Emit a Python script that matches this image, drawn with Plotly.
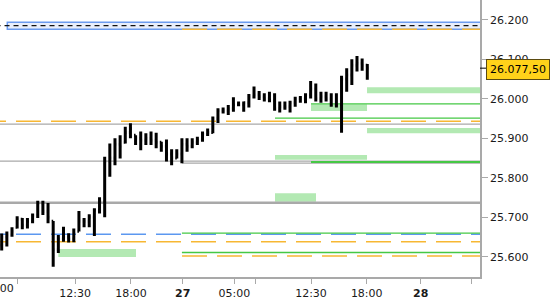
import plotly.graph_objects as go

# ---------------- data (30-min bars, slot index = bar number) ----------------
bar_open = [25630, 25650, 25655, 25675, 25695, 25680, 25690, 25705, 25735, 25715,
            25690, 25618, 25645, 25650, 25645, 25665, 25690, 25690, 25700, 25718,
            25740, 25841, 25850, 25885, 25890, 25915, 25908, 25900, 25895, 25900,
            25895, 25890, 25880, 25860, 25850, 25860, 25885, 25880, 25890, 25895,
            25910, 25915, 25950, 25970, 25970, 25975, 25985, 25985, 25990, 26005,
            26010, 26005, 26000, 25995, 25975, 25980, 25980, 25990, 26000, 26000,
            26010, 26025, 26000, 26005, 26000, 25985, 25985, 26050, 26060, 26085,
            26090, 26085]
bar_high = [25659, 25664, 25675, 25703, 25698, 25698, 25710, 25742, 25742, 25736,
            25691, 25655, 25676, 25660, 25672, 25716, 25698, 25708, 25723, 25751,
            25853, 25887, 25900, 25908, 25929, 25938, 25908, 25917, 25913, 25917,
            25914, 25891, 25897, 25872, 25872, 25900, 25900, 25900, 25904, 25917,
            25925, 25955, 25976, 25978, 25984, 26004, 25993, 25993, 26012, 26031,
            26020, 26014, 26018, 26014, 25993, 25993, 25995, 26005, 26007, 26014,
            26045, 26039, 26018, 26018, 26014, 26014, 26058, 26077, 26100, 26108,
            26102, 26088]
bar_low = [25616, 25626, 25651, 25672, 25670, 25672, 25685, 25698, 25706, 25685,
           25575, 25610, 25638, 25636, 25637, 25664, 25675, 25675, 25653, 25710,
           25700, 25803, 25832, 25849, 25887, 25900, 25883, 25870, 25883, 25883,
           25875, 25866, 25841, 25832, 25849, 25837, 25866, 25875, 25883, 25891,
           25906, 25913, 25939, 25963, 25959, 25967, 25982, 25967, 25978, 26001,
           25997, 25993, 25991, 25970, 25965, 25972, 25965, 25980, 25990, 25989,
           26001, 25993, 25990, 25993, 25980, 25978, 25914, 26018, 26035, 26069,
           26071, 26048]
bar_close = [25650, 25655, 25665, 25695, 25680, 25690, 25705, 25735, 25715, 25700,
             25618, 25645, 25650, 25645, 25660, 25690, 25690, 25700, 25718, 25740,
             25841, 25850, 25885, 25880, 25915, 25925, 25900, 25895, 25900, 25895,
             25890, 25880, 25860, 25850, 25860, 25885, 25880, 25890, 25895, 25910,
             25915, 25950, 25970, 25970, 25975, 25985, 25985, 25990, 26005, 26010,
             26005, 26000, 25995, 25975, 25980, 25980, 25990, 26000, 26000, 26010,
             26025, 26000, 26005, 26000, 25985, 25985, 26050, 26060, 26085, 26090,
             26085, 26077.5]
bar_slot = list(range(len(bar_close)))
last_price = 26077.5

# time axis ticks (slot positions of time marks)
x_tick_slots = [3.03, 14.24, 25.11, 35.15, 45.17, 49.33, 60.07, 70.89, 81.37, 91.28]
x_tick_text = ["", "12:30", "18:00", "<b>27</b>", "05:00", "", "12:30", "18:00", "<b>28</b>", ""]
first_label_text = "05:00"
first_label_slot = -0.72

y_tick_vals = [25600, 25700, 25800, 25900, 26000, 26100, 26200]
y_tick_text = ["25.600", "25.700", "25.800", "25.900", "26.000", "26.100", "26.200"]

# supply/demand zones (green boxes): start slot, end slot (None = open), low, high
zone_start = [70.95, 60.07, 70.95, 53.08, 53.08, 11.0]
zone_end = [None, 70.95, None, 70.95, 61.04, 26.08]
zone_low = [26014, 25969, 25912.5, 25846, 25739.5, 25599.5]
zone_high = [26029, 25986, 25926, 25858, 25761, 25620]

# range box at the top
range_box_low, range_box_high, range_box_start = 26176, 26193.5, 1.09
range_mid_level = 26185

green_level_price = [25951, 25987, 25840, 25660, 25611]
green_level_start = [53.08, 60.07, 60.07, 35.0, 35.0]
gray_level_price = [25936, 25842, 25837, 25737]
gray_level_start = [-1.0, -1.0, 35.0, -1.0]
orange_level_price = [25943, 25638, 25602, 26176]
orange_level_start = [-4.02, -4.02, 35.02, 35.02]
blue_level_price = [25657]
blue_level_start = [-4.02]

# ---------------- styling ----------------
X_RANGE = [-0.33, 92.89]
Y_RANGE = [25549, 26250]
X_OPEN_END = 94
FONT = "DejaVu Sans"
GREEN = "#45c845"
GRAY = "#a9a9a9"
ORANGE = "#f7b733"
BLUE = "#5c98f0"
ZONE_FILL = "#b3e9b3"
gray_widths = [1.2, 1.2, 1.2, 2.5]
green_widths = [1.3, 1.3, 2.2, 1.3, 1.3]

shapes = []
# zones
for s, e, lo, hi in zip(zone_start, zone_end, zone_low, zone_high):
    shapes.append(dict(type="rect", xref="x", yref="y", x0=s, x1=(X_OPEN_END if e is None else e),
                       y0=lo, y1=hi, fillcolor=ZONE_FILL, line=dict(width=0), layer="below"))
# range box
shapes.append(dict(type="rect", xref="x", yref="y", x0=range_box_start, x1=X_OPEN_END,
                   y0=range_box_low, y1=range_box_high, fillcolor="#e8eefb",
                   line=dict(color="#6b9bef", width=1.5), layer="below"))
shapes.append(dict(type="line", xref="x", yref="y", x0=-1.2, x1=X_OPEN_END,
                   y0=range_mid_level, y1=range_mid_level,
                   line=dict(color="#111", width=1.2, dash="5px,4px"), layer="below"))
for p, s, w in zip(gray_level_price, gray_level_start, gray_widths):
    shapes.append(dict(type="line", xref="x", yref="y", x0=s, x1=X_OPEN_END, y0=p, y1=p,
                       line=dict(color=GRAY, width=w), layer="below"))
for p, s in zip(blue_level_price, blue_level_start):
    shapes.append(dict(type="line", xref="x", yref="y", x0=s, x1=X_OPEN_END, y0=p, y1=p,
                       line=dict(color=BLUE, width=1.5, dash="25px,10px"), layer="below"))
for p, s in zip(orange_level_price, orange_level_start):
    shapes.append(dict(type="line", xref="x", yref="y", x0=s, x1=X_OPEN_END, y0=p, y1=p,
                       line=dict(color=ORANGE, width=1.5, dash="25px,10px"), layer="below"))
for p, s, w in zip(green_level_price, green_level_start, green_widths):
    shapes.append(dict(type="line", xref="x", yref="y", x0=s, x1=X_OPEN_END, y0=p, y1=p,
                       line=dict(color=GREEN, width=w), layer="below"))
# small marker tick for last price on the axis
shapes.append(dict(type="line", xref="paper", yref="y", x0=1.0, x1=1.0 + 6 / 480,
                   y0=last_price, y1=last_price, line=dict(color="#000", width=1)))

fig = go.Figure()
fig.add_trace(go.Ohlc(
    x=bar_slot, open=bar_open, high=bar_high, low=bar_low, close=bar_close,
    increasing=dict(line=dict(color="#000000", width=3)),
    decreasing=dict(line=dict(color="#000000", width=3)),
    tickwidth=0.3, hoverinfo="skip", showlegend=False,
))

fig.update_layout(
    width=550, height=300,
    margin=dict(l=0, r=70, t=0, b=23),
    paper_bgcolor="white", plot_bgcolor="white",
    font=dict(family=FONT, size=11, color="#1a1a1a"),
    shapes=shapes,
    showlegend=False,
    annotations=[
        dict(xref="paper", yref="y", x=1.0, y=last_price, xanchor="left", yanchor="middle",
             xshift=6, yshift=-1.5, text="26.077,50", showarrow=False,
             font=dict(family=FONT, size=11, color="#000"),
             bgcolor="#ffd21a", bordercolor="#5a4a10", borderwidth=1, borderpad=3),
        dict(xref="paper", yref="paper", x=(first_label_slot - X_RANGE[0]) / (X_RANGE[1] - X_RANGE[0]),
             y=0, yanchor="middle", xanchor="center", yshift=-11, text=first_label_text,
             showarrow=False, font=dict(family=FONT, size=11, color="#1a1a1a")),
    ],
)
fig.update_xaxes(
    range=X_RANGE, rangeslider_visible=False, showgrid=False, zeroline=False,
    showline=True, linecolor=GRAY, linewidth=1.5,
    ticks="outside", ticklen=5, tickcolor=GRAY, tickwidth=1,
    tickmode="array", tickvals=x_tick_slots, ticktext=x_tick_text,
    automargin=False,
)
fig.update_yaxes(
    range=Y_RANGE, side="right", showgrid=False, zeroline=False,
    showline=True, linecolor=GRAY, linewidth=1.5,
    ticks="outside", ticklen=6, tickcolor=GRAY, tickwidth=1,
    tickmode="array", tickvals=y_tick_vals, ticktext=y_tick_text,
    automargin=False,
)

fig.write_html("out.html")
